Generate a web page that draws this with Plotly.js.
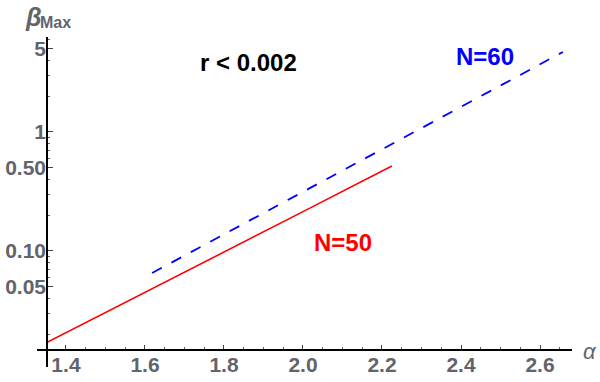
<!DOCTYPE html>
<html>
<head>
<meta charset="utf-8">
<script src="https://cdn.plot.ly/plotly-3.0.1.min.js"></script>
<style>
  html, body { margin: 0; padding: 0; background: #fff; }
  #chart { width: 600px; height: 382px; }
</style>
</head>
<body>
<div id="chart"></div>
<script>
// Values
const alphaN50 = [1.35, 1.6, 1.8, 2.0, 2.225];
const betaN50 = [0.0169, 0.0446, 0.0977, 0.214, 0.518];

const alphaN60 = [1.618, 1.8, 2.0, 2.2, 2.4, 2.658];
const betaN60 = [0.0653, 0.138, 0.314, 0.715, 1.63, 4.70];

const yTickVals = [0.05, 0.1, 0.5, 1, 5];
const yTickText = ['0.05', '0.10', '0.50', '1', '5'];
const yMinorVals = [0.02, 0.03, 0.04, 0.06, 0.07, 0.08, 0.09,
                    0.2, 0.3, 0.4, 0.6, 0.7, 0.8, 0.9, 2, 3, 4, 6];
const xTickVals = [1.4, 1.6, 1.8, 2.0, 2.2, 2.4, 2.6];
const xTickText = ['1.4', '1.6', '1.8', '2.0', '2.2', '2.4', '2.6'];

const gray = '#62646c';
const tickFont = { family: 'Liberation Sans, Arial, sans-serif', size: 21, color: gray, weight: 'bold' };

var traces = [
    {
        x: alphaN50, y: betaN50,
        type: 'scatter', mode: 'lines',
        line: { color: '#ff0000', width: 1.6 },
        hoverinfo: 'skip'
    },
    {
        x: alphaN60, y: betaN60,
        type: 'scatter', mode: 'lines',
        line: { color: '#0000ff', width: 1.8, dash: '11px,11px' },
        hoverinfo: 'skip'
    }
];

var layout = {
    width: 600, height: 382,
    margin: { l: 47, r: 28, t: 37, b: 32 },
    paper_bgcolor: '#fff', plot_bgcolor: '#fff',
    showlegend: false,
    xaxis: {
        range: [1.352, 2.681],
        showgrid: false, zeroline: false, showline: false,
        tickmode: 'array', tickvals: xTickVals, ticktext: xTickText,
        ticks: 'inside', ticklen: 5, tickwidth: 1, tickcolor: '#444',
        tickfont: tickFont,
        minor: { ticks: 'inside', ticklen: 3, tickwidth: 1, tickcolor: '#666', dtick: 0.05, tick0: 1.4 }
    },
    yaxis: {
        type: 'log',
        range: [-1.832, 0.798],
        showgrid: false, zeroline: false, showline: false,
        tickmode: 'array', tickvals: yTickVals, ticktext: yTickText,
        ticks: 'inside', ticklen: 6, tickwidth: 1, tickcolor: '#444',
        tickfont: tickFont,
        minor: { ticks: 'inside', ticklen: 3, tickwidth: 1, tickcolor: '#666', tickmode: 'array', tickvals: yMinorVals }
    },
    shapes: [
        // axes drawn a bit past the crossing point
        { type: 'line', xref: 'paper', yref: 'paper', x0: 0, x1: 0, y0: -0.054, y1: 1,
          line: { color: '#000', width: 2 } },
        { type: 'line', xref: 'paper', yref: 'paper', x0: -0.019, x1: 1, y0: 0, y1: 0,
          line: { color: '#000', width: 2 } }
    ],
    annotations: [
        { text: '<b>r < 0.002</b>', x: 1.862, y: Math.log10(3.8), xref: 'x', yref: 'y',
          showarrow: false, font: { family: 'Liberation Sans, Arial', size: 24, color: '#000' } },
        { text: '<b>N=60</b>', x: 2.461, y: Math.log10(4.27), xref: 'x', yref: 'y',
          showarrow: false, font: { family: 'Liberation Sans, Arial', size: 24, color: '#0000ff' } },
        { text: '<b>N=50</b>', x: 2.101, y: Math.log10(0.117), xref: 'x', yref: 'y',
          showarrow: false, font: { family: 'Liberation Sans, Arial', size: 24, color: '#ff0000' } },
        // y axis label: beta with "Max" subscript
        { text: '<b><i>β</i></b>', x: -0.046, y: 1.065, xref: 'paper', yref: 'paper',
          xanchor: 'left', yanchor: 'middle', showarrow: false,
          font: { family: 'Liberation Sans, Arial', size: 25, color: gray } },
        { text: '<b>Max</b>', x: -0.017, y: 1.045, xref: 'paper', yref: 'paper',
          xanchor: 'left', yanchor: 'middle', showarrow: false,
          font: { family: 'Liberation Sans, Arial', size: 16, color: gray } },
        { text: '<i>α</i>', x: 1.017, y: -0.006, xref: 'paper', yref: 'paper',
          xanchor: 'left', yanchor: 'middle', showarrow: false,
          font: { family: 'Liberation Sans, Arial', size: 22, color: gray } }
    ]
};

Plotly.newPlot('chart', traces, layout, { staticPlot: true });
</script>
</body>
</html>
